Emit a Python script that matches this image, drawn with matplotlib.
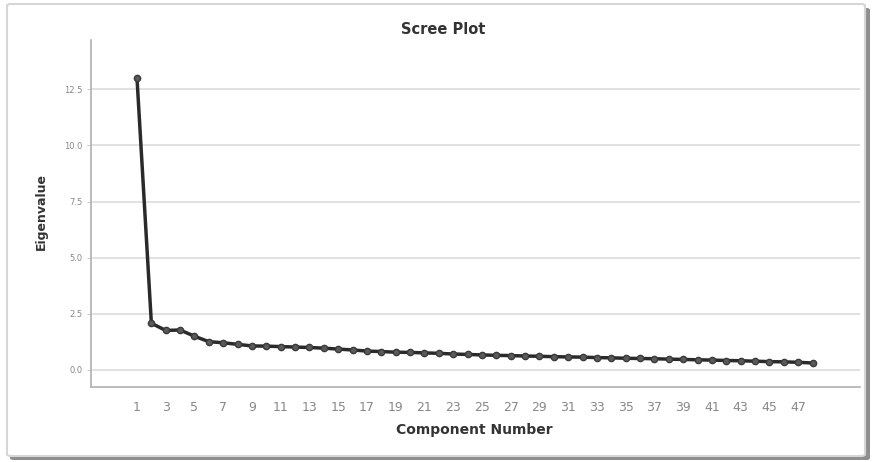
import numpy as np
import matplotlib.pyplot as plt
from matplotlib.patches import FancyBboxPatch

# eigenvalues, components 1..48
components = list(range(1, 49))
eigenvalues = [13.0, 2.08, 1.76, 1.78, 1.50, 1.26, 1.21, 1.14, 1.07, 1.06,
               1.04, 1.02, 1.00, 0.97, 0.93, 0.89, 0.84, 0.82, 0.79, 0.78,
               0.76, 0.74, 0.71, 0.69, 0.67, 0.65, 0.64, 0.62, 0.61, 0.59,
               0.58, 0.57, 0.55, 0.54, 0.52, 0.51, 0.50, 0.48, 0.47, 0.45,
               0.44, 0.42, 0.41, 0.39, 0.37, 0.36, 0.34, 0.31]
x_ticks = list(range(1, 48, 2))
y_ticks = [0.0, 2.5, 5.0, 7.5, 10.0, 12.5]

W, H = 874, 462
fig = plt.figure(figsize=(W / 100, H / 100), dpi=100)

# frame with shadow like the SPSS output window
shadow = FancyBboxPatch((10 / W, 2 / H), 860 / W, 452 / H,
                        boxstyle="round,pad=0,rounding_size=0.004",
                        transform=fig.transFigure, facecolor='#8e8e8e',
                        edgecolor='none', zorder=0)
frame = FancyBboxPatch((7 / W, 6 / H), 858 / W, 452 / H,
                       boxstyle="round,pad=0,rounding_size=0.004",
                       transform=fig.transFigure, facecolor='white',
                       edgecolor='#d6d6d6', linewidth=1.5, zorder=1)
fig.patches.extend([shadow, frame])

ax = fig.add_axes([91 / W, 1 - 387 / H, (860 - 91) / W, (387 - 40) / H])
ax.set_zorder(2)
ax.patch.set_alpha(0)

ax.plot(components, eigenvalues, '-', color='#2a2a2a', linewidth=2.5,
        marker='o', markersize=4.5, markerfacecolor='#5a5a5a',
        markeredgecolor='#3a3a3a', zorder=3)

ax.set_xlim(-2.2, 51.3)
ax.set_ylim(-0.76, 14.7)
ax.set_xticks(x_ticks)
ax.set_xticklabels([str(t) for t in x_ticks])
ax.set_yticks(y_ticks)
ax.set_yticklabels([f'{t:.1f}' for t in y_ticks])
ax.grid(axis='y', color='#dcdcdc', linewidth=1.2)
ax.set_axisbelow(True)

for side in ['top', 'right']:
    ax.spines[side].set_visible(False)
for side in ['left', 'bottom']:
    ax.spines[side].set_color('#b0b0b0')
    ax.spines[side].set_linewidth(1.2)

ax.tick_params(axis='x', length=0, pad=10, labelsize=9, labelcolor='#888888')
ax.tick_params(axis='y', length=3, color='#cccccc', pad=3, labelsize=6,
               labelcolor='#888888')

fig.text(443 / W, 1 - 29 / H, 'Scree Plot', fontsize=10.5, fontweight='bold',
         color='#333333', ha='center', va='center')
ax.set_xlabel('Component Number', fontsize=10, fontweight='bold',
              color='#333333')
ax.xaxis.set_label_coords((474 - 91) / 769, -(430 - 387) / 347)
ax.xaxis.label.set_va('center')
ax.set_ylabel('Eigenvalue', fontsize=9, fontweight='bold', color='#333333')
ax.yaxis.set_label_coords((41 - 91) / 769, (387 - 212) / 347)
ax.yaxis.label.set_va('center')

fig.savefig('out.png', dpi=100)
